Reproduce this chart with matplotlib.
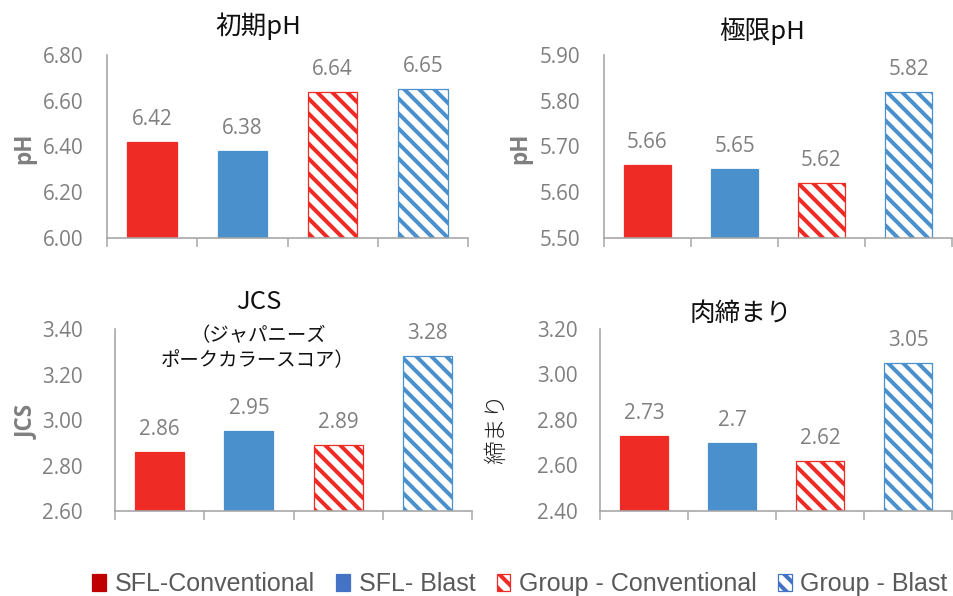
import matplotlib
matplotlib.use("Agg")
import matplotlib.pyplot as plt
from matplotlib.patches import Patch
from matplotlib.ticker import FormatStrFormatter
import numpy as np

# --- data -------------------------------------------------------------
groups = ["SFL-Conventional", "SFL- Blast", "Group - Conventional", "Group - Blast"]

initial_ph = [6.42, 6.38, 6.64, 6.65]
ultimate_ph = [5.66, 5.65, 5.62, 5.82]
jcs = [2.86, 2.95, 2.89, 3.28]
firmness = [2.73, 2.70, 2.62, 3.05]

titles = ["初期pH", "極限pH", "JCS", "肉締まり"]
ylabels = ["pH", "pH", "JCS", "締まり"]
yticks = [
    [6.00, 6.20, 6.40, 6.60, 6.80],
    [5.50, 5.60, 5.70, 5.80, 5.90],
    [2.60, 2.80, 3.00, 3.20, 3.40],
    [2.40, 2.60, 2.80, 3.00, 3.20],
]

# --- style ------------------------------------------------------------
RED = "#EE2B24"
BLUE = "#4A90CD"
GREY_TXT = "#7F7F7F"
SPINE = "#A6A6A6"
HATCH = "\\" * 2
plt.rcParams["hatch.linewidth"] = 3.2
plt.rcParams["font.family"] = ["Open Sans", "Noto Sans CJK JP", "DejaVu Sans"]

DPI = 90
fig = plt.figure(figsize=(953 / DPI, 596 / DPI), dpi=DPI)
W, H = 953, 596


def ax_rect(l, r, t, b):
    return [l / W, 1 - b / H, (r - l) / W, (b - t) / H]


rects = [
    ax_rect(107, 468, 55, 238),
    ax_rect(604, 952, 55, 238),
    ax_rect(115, 472, 329, 511),
    ax_rect(600, 952, 329, 511),
]
tick_pads = [19, 19, 26, 18]
series = [initial_ph, ultimate_ph, jcs, firmness]

fills = [RED, BLUE, "white", "white"]
edges = [RED, BLUE, RED, BLUE]
hatches = [None, None, HATCH, HATCH]

x = np.arange(len(groups))
axes = []
for i, (rect, vals) in enumerate(zip(rects, series)):
    ax = fig.add_axes(rect)
    axes.append(ax)
    for j, v in enumerate(vals):
        ax.bar(x[j], v, width=0.55, color=fills[j], edgecolor=edges[j],
               hatch=hatches[j], linewidth=1.0, zorder=2)
        ax.annotate(f"{v:g}", (x[j], v), xytext=(0, 18), textcoords="offset points",
                    ha="center", va="center", fontsize=16.5, color=GREY_TXT,
                    family="Open Sans")
    ticks = yticks[i]
    ax.set_ylim(ticks[0], ticks[-1])
    ax.set_yticks(ticks)
    ax.yaxis.set_major_formatter(FormatStrFormatter("%.2f"))
    ax.set_xlim(-0.5, 3.5)
    ax.set_xticks(np.arange(-0.5, 3.6, 1.0))
    ax.set_xticklabels([])
    ax.tick_params(axis="x", direction="out", length=7, width=1.2, color=SPINE)
    ax.tick_params(axis="y", length=0, pad=tick_pads[i], labelsize=16.5,
                   labelcolor=GREY_TXT)
    for s in ("top", "right"):
        ax.spines[s].set_visible(False)
    for s in ("left", "bottom"):
        ax.spines[s].set_color(SPINE)
        ax.spines[s].set_linewidth(1.3)

# --- titles -----------------------------------------------------------
title_kw = dict(ha="center", va="center", fontsize=20.5, color="#111111",
                family=["Noto Sans CJK JP", "DejaVu Sans"])
fig.text(258 / W, 1 - 26 / H, titles[0], **title_kw)
fig.text(762 / W, 1 - 31 / H, titles[1], **title_kw)
fig.text(259 / W, 1 - 302 / H, titles[2], **title_kw)
fig.text(258 / W, 1 - 348 / H, "（ジャパニーズ\nポークカラースコア）", ha="center",
         va="center", fontsize=15.5, color="#111111", linespacing=1.25,
         family=["Noto Sans CJK JP", "DejaVu Sans"])
fig.text(741 / W, 1 - 314 / H, titles[3], **title_kw)

# --- y-axis labels ----------------------------------------------------
lab_kw = dict(rotation=90, ha="center", va="center", color=GREY_TXT)
fig.text(24 / W, 1 - 148 / H, ylabels[0], fontsize=18, fontweight="bold",
         family="Open Sans", **lab_kw)
fig.text(520 / W, 1 - 148 / H, ylabels[1], fontsize=18, fontweight="bold",
         family="Open Sans", **lab_kw)
fig.text(27 / W, 1 - 422 / H, ylabels[2], fontsize=18, fontweight="bold",
         family="Open Sans", **lab_kw)
fig.text(497 / W, 1 - 428 / H, ylabels[3], fontsize=19, fontweight="light",
         family=["Noto Sans CJK JP"], rotation=90, ha="center", va="center",
         color="#222222")

# --- legend -----------------------------------------------------------
handles = [
    Patch(facecolor="#C00000", edgecolor="#C00000"),
    Patch(facecolor="#4472C4", edgecolor="#4472C4"),
    Patch(facecolor="white", edgecolor=RED, hatch=HATCH, linewidth=1.0),
    Patch(facecolor="white", edgecolor="#4472C4", hatch=HATCH, linewidth=1.0),
]
leg = fig.legend(handles, groups, loc="center", bbox_to_anchor=(520 / W, 1 - 584 / H),
                 ncol=4, frameon=False, handlelength=0.55, handleheight=0.65,
                 handletextpad=0.35, columnspacing=0.85,
                 prop={"family": "Liberation Sans", "size": 20})
for t in leg.get_texts():
    t.set_color("#595959")

fig.savefig("out.png", dpi=DPI)
